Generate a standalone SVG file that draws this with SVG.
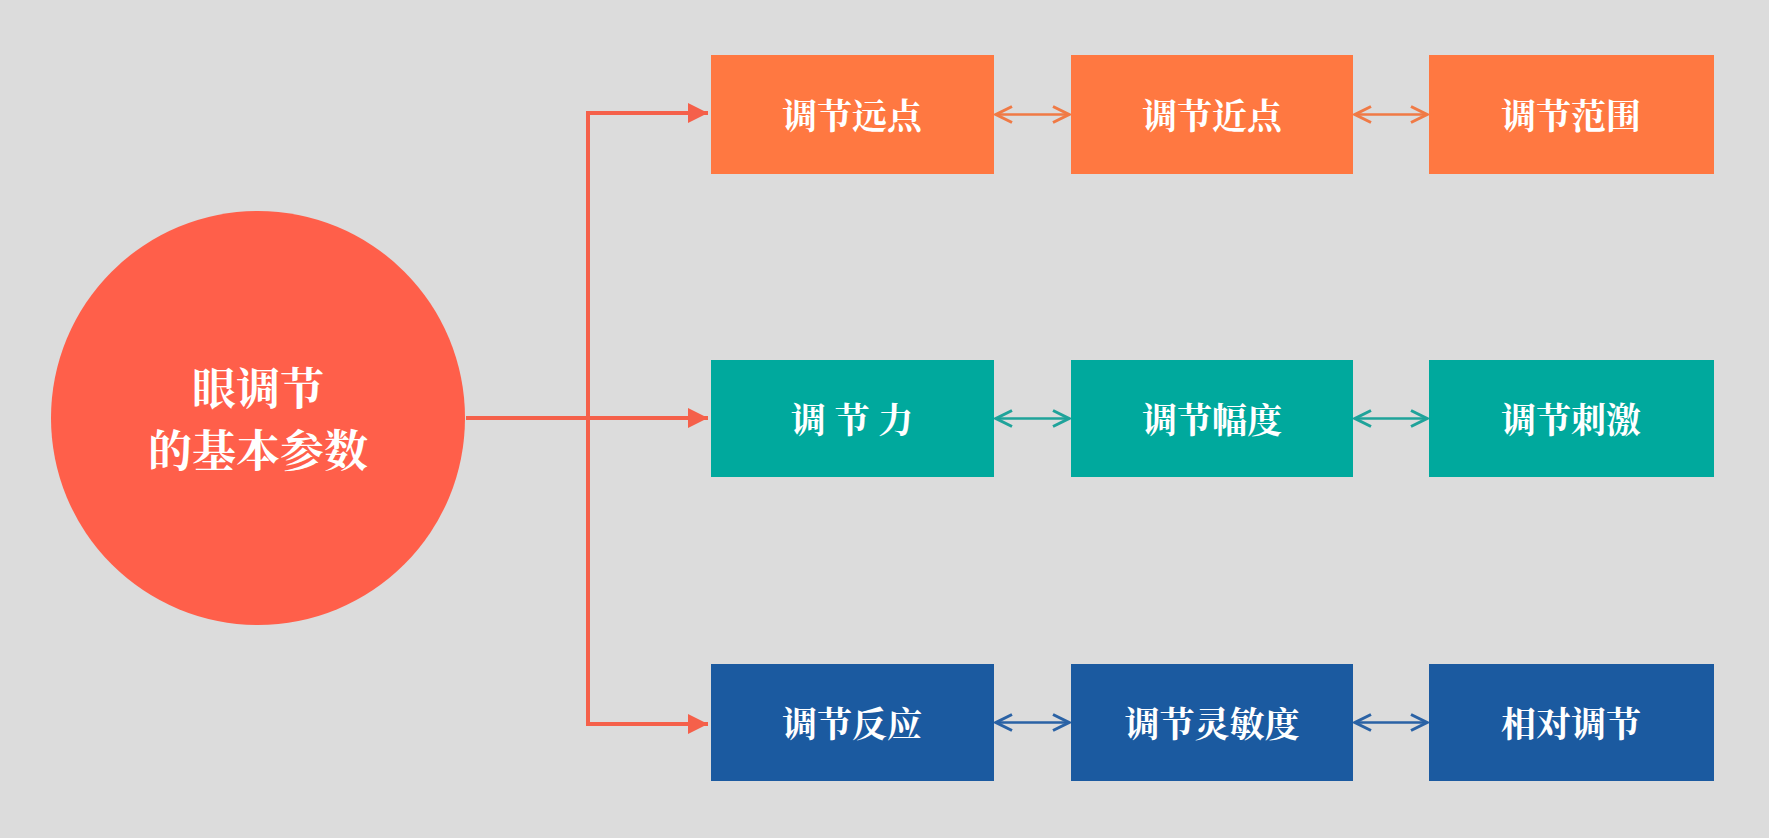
<svg xmlns="http://www.w3.org/2000/svg" width="1769" height="838" viewBox="0 0 1769 838">
<defs>
<style>
.t{font-family:"Noto Serif CJK SC","Noto Sans CJK SC",serif;font-weight:bold;fill:#fff;text-anchor:middle;dominant-baseline:central}
.b{font-size:35px}
.o{fill:#FF7841}.g{fill:#00A99D}.u{fill:#1B5AA0}
</style>
<marker id="ar" viewBox="0 0 10 10" refX="10" refY="5" markerWidth="5" markerHeight="5" orient="auto-start-reverse" markerUnits="strokeWidth"><path d="M0,0L10,5L0,10z" fill="#F5604A"/></marker>
<marker id="ao" viewBox="0 0 10 10" refX="9" refY="5" markerWidth="8" markerHeight="8" orient="auto-start-reverse" markerUnits="strokeWidth"><path d="M1,1L9,5L1,9" fill="none" stroke="#F07A45" stroke-width="1.5"/></marker>
<marker id="ag" viewBox="0 0 10 10" refX="9" refY="5" markerWidth="8" markerHeight="8" orient="auto-start-reverse" markerUnits="strokeWidth"><path d="M1,1L9,5L1,9" fill="none" stroke="#1FA39A" stroke-width="1.5"/></marker>
<marker id="au" viewBox="0 0 10 10" refX="9" refY="5" markerWidth="8" markerHeight="8" orient="auto-start-reverse" markerUnits="strokeWidth"><path d="M1,1L9,5L1,9" fill="none" stroke="#2A62A5" stroke-width="1.5"/></marker>
</defs>
<rect width="1769" height="838" fill="#DCDCDC"/>
<g id="connectors" fill="none">
<g stroke="#F5604A" stroke-width="4">
<path d="M466,418H708" marker-end="url(#ar)"/>
<path d="M588,418V113H708" marker-end="url(#ar)"/>
<path d="M588,418V724H708" marker-end="url(#ar)"/>
</g>
<g stroke="#F07A45" stroke-width="2.5"><path d="M996,114.5H1069" marker-start="url(#ao)" marker-end="url(#ao)"/><path d="M1355,114.5H1427" marker-start="url(#ao)" marker-end="url(#ao)"/></g>
<g stroke="#1FA39A" stroke-width="2.5"><path d="M996,418.5H1069" marker-start="url(#ag)" marker-end="url(#ag)"/><path d="M1355,418.5H1427" marker-start="url(#ag)" marker-end="url(#ag)"/></g>
<g stroke="#2A62A5" stroke-width="2.5"><path d="M996,722.5H1069" marker-start="url(#au)" marker-end="url(#au)"/><path d="M1355,722.5H1427" marker-start="url(#au)" marker-end="url(#au)"/></g>
</g>
<g id="center"><circle cx="258" cy="418" r="207" fill="#FF5F4A"/><text class="t" x="258" y="386" font-size="44">眼调节</text><text class="t" x="258" y="448" font-size="44">的基本参数</text></g>
<g id="n1"><rect class="o" x="711" y="55" width="283" height="119"/><text class="t b" x="852" y="114">调节远点</text></g>
<g id="n2"><rect class="o" x="1071" y="55" width="282" height="119"/><text class="t b" x="1212" y="114">调节近点</text></g>
<g id="n3"><rect class="o" x="1429" y="55" width="285" height="119"/><text class="t b" x="1571" y="114">调节范围</text></g>
<g id="n4"><rect class="g" x="711" y="360" width="283" height="117"/><text class="t b" x="852" y="418">调 节 力</text></g>
<g id="n5"><rect class="g" x="1071" y="360" width="282" height="117"/><text class="t b" x="1212" y="418">调节幅度</text></g>
<g id="n6"><rect class="g" x="1429" y="360" width="285" height="117"/><text class="t b" x="1571" y="418">调节刺激</text></g>
<g id="n7"><rect class="u" x="711" y="664" width="283" height="117"/><text class="t b" x="852" y="722">调节反应</text></g>
<g id="n8"><rect class="u" x="1071" y="664" width="282" height="117"/><text class="t b" x="1212" y="722">调节灵敏度</text></g>
<g id="n9"><rect class="u" x="1429" y="664" width="285" height="117"/><text class="t b" x="1571" y="722">相对调节</text></g>
</svg>
